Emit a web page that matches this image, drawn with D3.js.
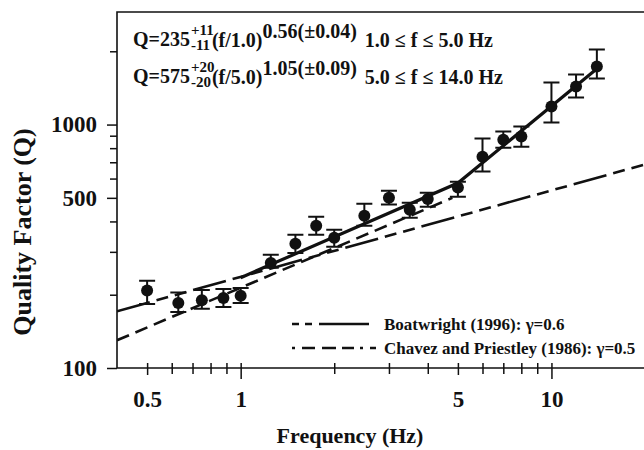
<!DOCTYPE html>
<html>
<head>
<meta charset="utf-8">
<script src="https://cdn.jsdelivr.net/npm/d3@7"></script>
<style>
  body { margin: 0; background: #fff; }
  svg text { font-family: "Liberation Serif", "Times New Roman", serif; font-weight: bold; fill: #111; }
</style>
</head>
<body>
<script>
// Observed Q values with error bars
const freq  = [0.5, 0.63, 0.75, 0.88, 1.0, 1.25, 1.5, 1.75, 2.0, 2.5, 3.0, 3.5, 4.0, 5.0, 6.0, 7.0, 8.0, 10.0, 12.0, 14.0];
const qObs  = [208, 185, 190, 194, 198, 270, 324, 384, 343, 422, 500, 447, 495, 551, 738, 867, 893, 1186, 1433, 1733];
const qLow  = [183, 170, 175, 178, 185, 258, 297, 353, 315, 384, 469, 414, 460, 505, 641, 804, 811, 1019, 1291, 1546];
const qHigh = [228, 204, 209, 211, 213, 292, 353, 418, 370, 473, 535, 477, 525, 582, 876, 936, 981, 1489, 1606, 2036];

// Fitted relation (two segments) and published models
const fitF = [1.0, 5.0, 14.0];
const fitQ = [235, 575, 1695];
const boatF = [0.4, 20];
const boatQ = [171, 686];
const chavF = [0.4, 4.8];
const chavQ = [130, 500];

// Tick values
const xMajor = [0.5, 1, 5, 10];
const xMinor = [0.6, 0.7, 0.8, 0.9, 2, 3, 4, 6, 7, 8, 9, 20];
const yMajor = [100, 500, 1000];
const yMinor = [200, 300, 400, 600, 700, 800, 900, 2000];

const legendLabels = ["Boatwright (1996): \u03b3=0.6", "Chavez and Priestley (1986): \u03b3=0.5"];

const width = 644;
const height = 450;
const marginTop = 12;
const marginLeft = 117;
const marginBottom = 82;

const x = d3.scaleLog().domain([0.4, 20]).range([marginLeft, 645]);
const y = d3.scaleLog().domain([100, 2900]).range([height - marginBottom, marginTop]);

const svg = d3.select("body").append("svg")
  .attr("width", width)
  .attr("height", height)
  .attr("viewBox", [0, 0, width, height]);

svg.append("defs").append("clipPath").attr("id", "plot")
  .append("rect")
  .attr("x", marginLeft).attr("y", marginTop)
  .attr("width", width - marginLeft).attr("height", height - marginBottom - marginTop);

// frame: left, bottom, top
const y0 = height - marginBottom;
svg.append("path")
  .attr("d", `M${width},${marginTop}H${marginLeft}V${y0}H${width}`)
  .attr("fill", "none").attr("stroke", "#111").attr("stroke-width", 1.6);

// x axis
const xAxisMinor = svg.append("g")
  .attr("transform", `translate(0,${y0})`)
  .call(d3.axisBottom(x).tickValues(xMinor).tickSize(6).tickFormat(""));
const xAxisMajor = svg.append("g")
  .attr("transform", `translate(0,${y0})`)
  .call(d3.axisBottom(x).tickValues(xMajor).tickSize(7).tickPadding(16).tickFormat(d => d));
[xAxisMinor, xAxisMajor].forEach(g => {
  g.select(".domain").remove();
  g.selectAll(".tick line").attr("y1", -5).attr("stroke", "#111").attr("stroke-width", 1.5);
});
xAxisMajor.selectAll(".tick").filter(d => d === 1 || d === 10).select("line").attr("y2", 11);
xAxisMajor.selectAll(".tick text").style("font-size", "23px");

// y axis
const yAxisMinor = svg.append("g")
  .attr("transform", `translate(${marginLeft},0)`)
  .call(d3.axisLeft(y).tickValues(yMinor).tickSize(7).tickFormat(""));
const yAxisMajor = svg.append("g")
  .attr("transform", `translate(${marginLeft},0)`)
  .call(d3.axisLeft(y).tickValues(yMajor).tickSize(10).tickPadding(10).tickFormat(d => d));
[yAxisMinor, yAxisMajor].forEach(g => {
  g.select(".domain").remove();
  g.selectAll(".tick line").attr("stroke", "#111").attr("stroke-width", 1.5);
});
yAxisMajor.selectAll(".tick text").style("font-size", "23px");

// axis titles
svg.append("text")
  .attr("x", 350)
  .attr("y", 443)
  .attr("text-anchor", "middle")
  .style("font-size", "22px")
  .text("Frequency (Hz)");

svg.append("text")
  .attr("transform", `translate(31,232) rotate(-90)`)
  .attr("text-anchor", "middle")
  .style("font-size", "26px")
  .text("Quality Factor (Q)");

// model lines
const line = d3.line().x(d => x(d[0])).y(d => y(d[1]));
const plot = svg.append("g").attr("clip-path", "url(#plot)");

plot.append("path")
  .attr("d", line(d3.zip(boatF, boatQ)))
  .attr("fill", "none").attr("stroke", "#111").attr("stroke-width", 2.6)
  .attr("stroke-dasharray", "34,7,12,7,12,7");

plot.append("path")
  .attr("d", line(d3.zip(chavF, chavQ)))
  .attr("fill", "none").attr("stroke", "#111").attr("stroke-width", 2.6)
  .attr("stroke-dasharray", "13,7");

plot.append("path")
  .attr("d", line(d3.zip(fitF, fitQ)))
  .attr("fill", "none").attr("stroke", "#111").attr("stroke-width", 3.2);

// error bars and points
const obs = freq.map((f, i) => ({ f, q: qObs[i], lo: qLow[i], hi: qHigh[i] }));
const cap = 8;
const bars = plot.append("g").attr("stroke", "#111").attr("stroke-width", 2);
bars.selectAll("path").data(obs).join("path")
  .attr("fill", "none")
  .attr("d", d => `M${x(d.f)},${y(d.lo)}V${y(d.hi)}M${x(d.f) - cap},${y(d.hi)}h${2 * cap}M${x(d.f) - cap},${y(d.lo)}h${2 * cap}`);

plot.append("g").selectAll("circle").data(obs).join("circle")
  .attr("cx", d => x(d.f))
  .attr("cy", d => y(d.q))
  .attr("r", 6)
  .attr("fill", "#111");

// equations
function equation(yb, base, up, down, term, expo, range) {
  const g = svg.append("g");
  const t1 = g.append("text").attr("x", 133).attr("y", yb).style("font-size", "20px").text(base);
  const x1 = 133 + t1.node().getComputedTextLength() + 1;
  g.append("text").attr("x", x1).attr("y", yb - 11).style("font-size", "15px").text(up);
  const t2 = g.append("text").attr("x", x1).attr("y", yb + 4).style("font-size", "15px").text(down);
  const x2 = x1 + Math.max(t2.node().getComputedTextLength(), 20) + 1;
  const t3 = g.append("text").attr("x", x2).attr("y", yb + 1).style("font-size", "20px");
  t3.append("tspan").text(term);
  t3.append("tspan").attr("dy", -9).text(expo);
  const x3 = x2 + t3.node().getComputedTextLength() + 8;
  g.append("text").attr("x", x3).attr("y", yb + 1).style("font-size", "20px").text(range);
}
equation(46, "Q=235", "+11", "-11", "(f/1.0)", "0.56(\u00b10.04)", "1.0 \u2264 f \u2264 5.0 Hz");
equation(83, "Q=575", "+20", "-20", "(f/5.0)", "1.05(\u00b10.09)", "5.0 \u2264 f \u2264 14.0 Hz");

// legend
const legend = svg.append("g");
const dashes = ["7,6,7,7,50,7", "3,7,13,7,14,6,12,6"];
legendLabels.forEach((label, i) => {
  const ly = 324 + i * 24;
  legend.append("line")
    .attr("x1", 292).attr("x2", 376).attr("y1", ly).attr("y2", ly)
    .attr("stroke", "#111").attr("stroke-width", 2.6)
    .attr("stroke-dasharray", dashes[i]);
  legend.append("text")
    .attr("x", 384).attr("y", ly + 6)
    .style("font-size", "17px")
    .text(label);
});
</script>
</body>
</html>
